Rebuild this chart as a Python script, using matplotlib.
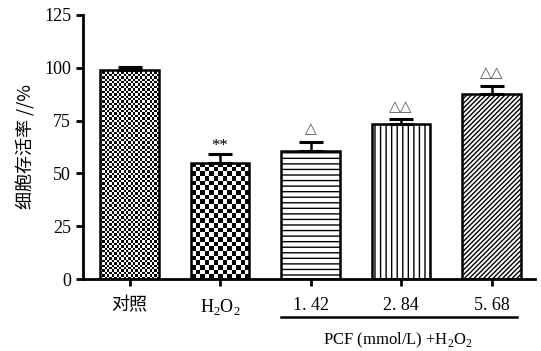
import numpy as np
import matplotlib.pyplot as plt

plt.rcParams['font.family'] = ['Liberation Serif', 'Noto Sans CJK SC', 'DejaVu Sans']
plt.rcParams['mathtext.fontset'] = 'custom'
plt.rcParams['mathtext.rm'] = 'Liberation Serif'
plt.rcParams['hatch.linewidth'] = 1.0

# data
groups = ['对照', 'H$_2$O$_2$', '1. 42', '2. 84', '5. 68']
survival = [99.0, 55.1, 60.6, 73.2, 87.5]
sd = [1.5, 3.9, 4.4, 2.4, 4.0]
marks = ['', '**', '△', '△△', '△△']

fig = plt.figure(figsize=(5.41, 3.51), dpi=100)
ax = fig.add_axes([0.1534, 0.2051, 0.8356, 0.7522])
x = np.arange(len(groups))
ax.set_xlim(-0.514, 4.48)
ax.set_ylim(0, 125)

hatches = [None, None, '---', '|||', '///////']
bars = ax.bar(x, survival, width=0.65, color='none', edgecolor='black',
              linewidth=1.8, zorder=3)
for b, h in zip(bars, hatches):
    if h:
        b.set_hatch(h)

# checkerboard fills for first two bars (cell size in pixels)
fig.canvas.draw()
for b, cell in zip(bars[:2], [2.4, 4.6]):
    x0, y0 = b.get_x(), b.get_y()
    x1, y1 = x0 + b.get_width(), y0 + b.get_height()
    p0 = ax.transData.transform((x0, y0))
    p1 = ax.transData.transform((x1, y1))
    nx = max(1, int(round((p1[0] - p0[0]) / cell)))
    ny = max(1, int(round((p1[1] - p0[1]) / cell)))
    chk = (np.add.outer(np.arange(ny), np.arange(nx)) % 2).astype(float)
    im = ax.imshow(chk, cmap='gray', extent=(x0, x1, y0, y1), aspect='auto',
                   interpolation='nearest', zorder=2.5)
    im.set_clip_path(b)
ax.set_xlim(-0.514, 4.48)
ax.set_ylim(0, 125)

ax.errorbar(x, survival, yerr=[np.zeros(len(sd)), sd], fmt='none',
            ecolor='black', elinewidth=1.8, capsize=8.5, capthick=2.2, zorder=4)

for xi, v, e, m in zip(x, survival, sd, marks):
    if m == '**':
        ax.annotate(m, (xi, v + e), xytext=(0, 0), textcoords='offset points',
                    ha='center', va='bottom', fontsize=12)
    elif m:
        ax.annotate(m, (xi, v + e), xytext=(0, 4), textcoords='offset points',
                    ha='center', va='bottom', fontsize=11, color='#555555',
                    family=['DejaVu Sans'])

ax.spines['top'].set_visible(False)
ax.spines['right'].set_visible(False)
ax.spines['left'].set_linewidth(2)
ax.spines['bottom'].set_linewidth(2)
ax.set_yticks([0, 25, 50, 75, 100, 125])
ax.set_xticks(x)
ax.set_xticklabels(groups)
ax.tick_params(axis='both', width=2, length=5, labelsize=13, direction='out')
ax.tick_params(axis='x', pad=8)
ax.set_ylabel('细胞存活率 //%', fontsize=13, labelpad=6,
              family=['Noto Sans CJK SC', 'DejaVu Sans'])

# group bracket for PCF doses
trans = ax.get_xaxis_transform()
ax.plot([1.675, 4.28], [-0.144, -0.144], color='black', lw=1.8,
        transform=trans, clip_on=False)
ax.text(2.96, -0.232, 'PCF (mmol/L) +H$_2$O$_2$', transform=trans,
        ha='center', va='center', fontsize=12)

fig.savefig('out.png', dpi=100)
